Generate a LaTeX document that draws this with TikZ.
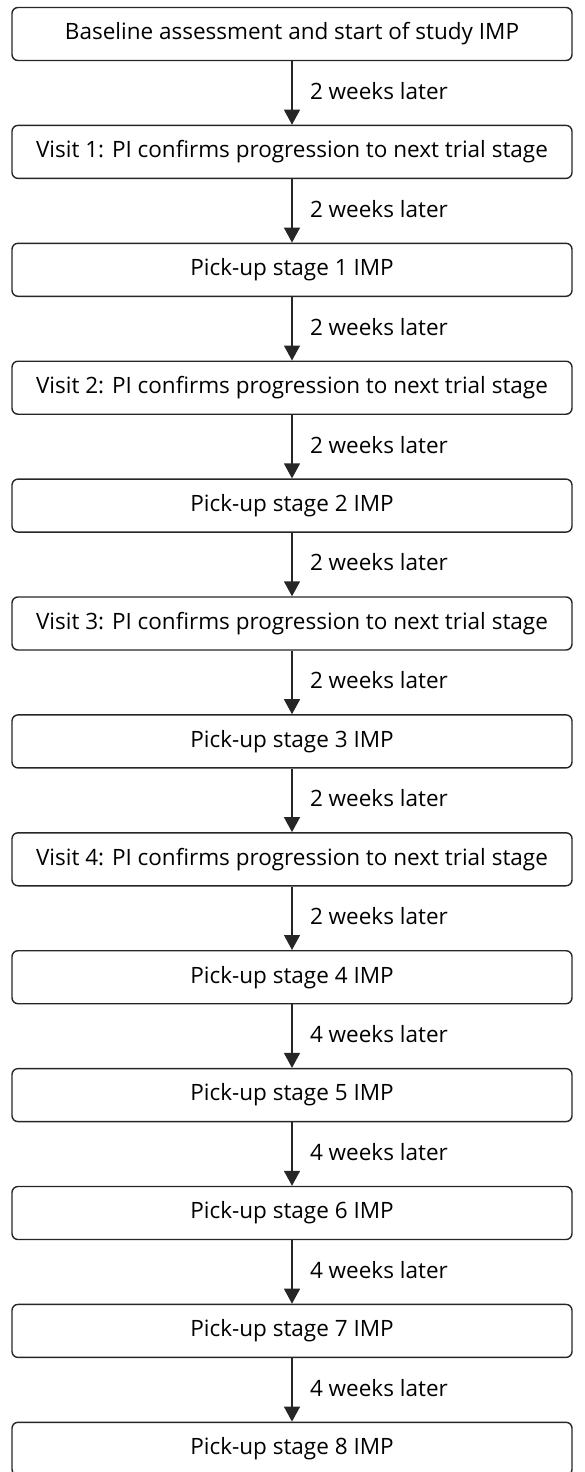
\documentclass[tikz,border=0pt]{standalone}
\usepackage{fontspec}
\setmainfont{Open Sans}
\usetikzlibrary{positioning,arrows.meta}
\colorlet{inkGray}{black!85}

\begin{document}
\begin{tikzpicture}[x=1pt,y=1pt,
    stagebox/.style={draw=inkGray,line width=1.4pt,rounded corners=6pt,
        minimum width=560pt,minimum height=53pt,inner sep=0pt,
        font=\fontsize{22.5}{27}\selectfont},
    flow/.style={draw=inkGray,line width=1.4pt,-{Triangle[length=15pt,width=16pt]}},
    waitlabel/.style={right=14pt,yshift=2pt,font=\fontsize{22.5}{27}\selectfont},
    node distance=63.5pt]
    \useasboundingbox (0,0) rectangle (584,-1472);
    \node[stagebox] (base) at (292,-34) {Baseline assessment and start of study IMP};
    \node[stagebox,below=of base] (visit1) {Visit 1: PI confirms progression to next trial stage};
    \node[stagebox,below=of visit1] (pick1) {Pick-up stage 1 IMP};
    \node[stagebox,below=of pick1] (visit2) {Visit 2: PI confirms progression to next trial stage};
    \node[stagebox,below=of visit2] (pick2) {Pick-up stage 2 IMP};
    \node[stagebox,below=of pick2] (visit3) {Visit 3: PI confirms progression to next trial stage};
    \node[stagebox,below=of visit3] (pick3) {Pick-up stage 3 IMP};
    \node[stagebox,below=of pick3] (visit4) {Visit 4: PI confirms progression to next trial stage};
    \node[stagebox,below=of visit4] (pick4) {Pick-up stage 4 IMP};
    \node[stagebox,below=of pick4] (pick5) {Pick-up stage 5 IMP};
    \node[stagebox,below=of pick5] (pick6) {Pick-up stage 6 IMP};
    \node[stagebox,below=of pick6] (pick7) {Pick-up stage 7 IMP};
    \node[stagebox,below=of pick7] (pick8) {Pick-up stage 8 IMP};
    \foreach \from/\to/\wk in {base/visit1/2,visit1/pick1/2,pick1/visit2/2,visit2/pick2/2,
        pick2/visit3/2,visit3/pick3/2,pick3/visit4/2,visit4/pick4/2,
        pick4/pick5/4,pick5/pick6/4,pick6/pick7/4,pick7/pick8/4}
        \draw[flow] (\from) -- node[waitlabel]{\wk\ weeks later} (\to);
\end{tikzpicture}
\end{document}
